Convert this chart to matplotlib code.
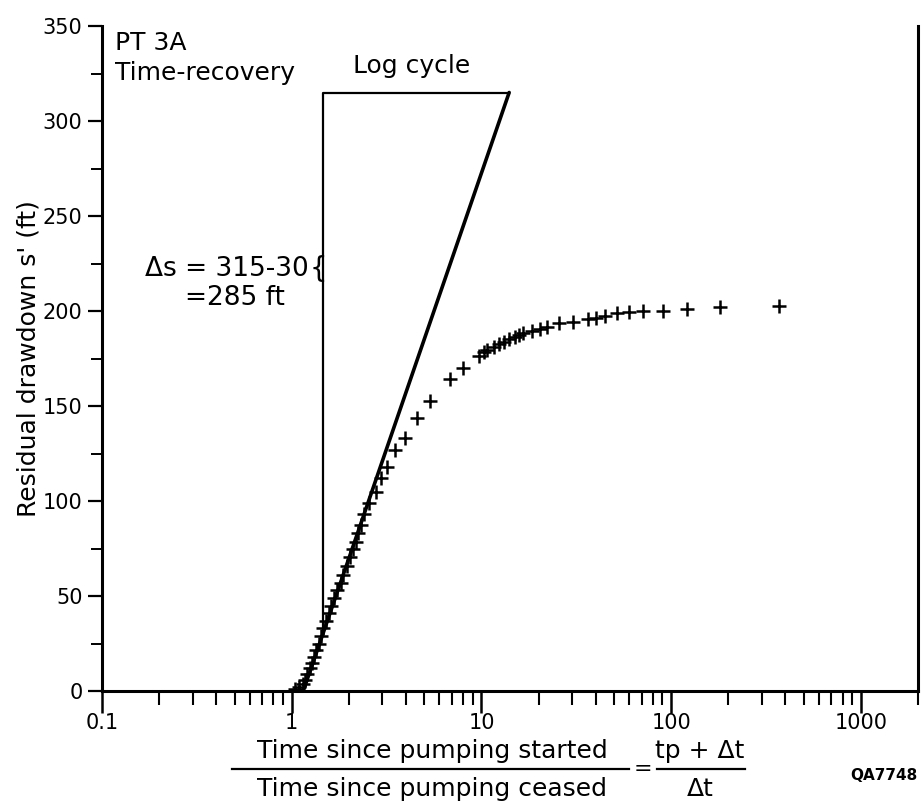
import matplotlib.pyplot as plt
from matplotlib.lines import Line2D
from matplotlib.ticker import LogLocator, NullFormatter
import numpy as np

# (tp + dt) / dt  and residual drawdown s' (ft), PT 3A recovery test
time_ratio = [1.04, 1.09, 1.14, 1.18, 1.21, 1.25, 1.28, 1.31, 1.35, 1.39,
              1.43, 1.47, 1.52, 1.57, 1.62, 1.68, 1.74, 1.81, 1.87, 1.95,
              2.03, 2.10, 2.18, 2.24, 2.31, 2.41, 2.56, 2.78, 2.96, 3.19,
              3.52, 3.95, 4.55, 5.37, 6.86, 8.0, 9.76, 10.3, 10.7, 11.6,
              12.4, 13.1, 13.9, 15.0, 15.8, 16.6, 18.5, 20.3, 22.1, 25.5,
              30.4, 36.3, 40.1, 44.8, 51.8, 59.7, 71.1, 91.0, 121, 180, 370]
drawdown = [1, 2, 3.5, 6, 9, 12, 15, 18, 21.5, 25,
            29, 33, 37, 41, 45, 49, 53, 57, 61, 66,
            70.5, 74.5, 78.5, 83, 87.5, 93, 99, 105, 112, 118,
            127, 133, 143.5, 152.5, 164, 170, 176.3, 178.3, 179.5, 181.2,
            182.5, 183.8, 185.1, 186.5, 187.5, 188.6, 189.5, 190.4, 191.7, 193.7,
            194.4, 195.8, 196.5, 197.4, 199.1, 199.6, 200, 200, 200.9, 202.3, 202.6]

# fitted straight line and the log-cycle construction
fit_x = [1.15, 14.0]
fit_y = [0, 315]
cycle_x = 1.46
cycle_s = [30, 315]

x_ticks = [0.1, 1, 10, 100, 1000]
x_tick_labels = ["0.1", "1", "10", "100", "1000"]
y_ticks = [0, 50, 100, 150, 200, 250, 300, 350]

fig = plt.figure(figsize=(9.21, 8.06), dpi=100)
ax = fig.add_axes([102 / 921, 115 / 806, 816 / 921, 665 / 806])

ax.set_xscale("log")
ax.set_xlim(0.1, 2000)
ax.set_ylim(0, 350)

ax.plot(fit_x, fit_y, color="black", lw=2.6, solid_capstyle="round")
ax.plot(time_ratio, drawdown, ls="none", marker="+", ms=10, mew=1.8,
        color="black")

# log cycle bracket
ax.plot([cycle_x, cycle_x, fit_x[1]], [cycle_s[0], cycle_s[1], cycle_s[1]],
        color="black", lw=1.6)
ax.text(1.38, 222, "{", ha="center", va="center", fontsize=20)

ax.text(4.3, 329, "Log cycle", ha="center", va="center", fontsize=18)
ax.text(0.016, 0.975, "PT 3A", transform=ax.transAxes, ha="left",
        va="center", fontsize=18)
ax.text(0.016, 0.93, "Time-recovery", transform=ax.transAxes, ha="left",
        va="center", fontsize=18)
ax.text(1.23, 222, "Δs = 315-30", ha="right", va="center", fontsize=19)
ax.text(0.274, 207, "=285 ft", ha="left", va="center", fontsize=19)

ax.set_xticks(x_ticks)
ax.set_xticklabels(x_tick_labels)
ax.xaxis.set_minor_locator(LogLocator(base=10, subs=np.arange(2, 10)))
ax.xaxis.set_minor_formatter(NullFormatter())
ax.set_yticks(y_ticks)
ax.set_yticks([25, 75, 125, 175, 225, 275, 325], minor=True)

ax.tick_params(axis="x", which="major", direction="out", length=16,
               width=1.8, labelsize=15, pad=0)
ax.tick_params(axis="x", which="minor", direction="out", length=10,
               width=1.5)
ax.tick_params(axis="y", which="major", direction="out", length=10,
               width=1.6, labelsize=15, pad=4)
ax.tick_params(axis="y", which="minor", direction="out", length=8,
               width=1.4)

ax.spines["top"].set_visible(False)
for side in ["left", "bottom", "right"]:
    ax.spines[side].set_linewidth(2.2)

ax.set_ylabel("Residual drawdown s' (ft)", fontsize=18, labelpad=2)

# x-axis label written as a fraction
fig.text(432 / 921, 1 - 751 / 806, "Time since pumping started",
         ha="center", va="center", fontsize=18)
fig.text(432 / 921, 1 - 789 / 806, "Time since pumping ceased",
         ha="center", va="center", fontsize=18)
fig.add_artist(Line2D([232 / 921, 629 / 921], [1 - 769 / 806, 1 - 769 / 806],
                      color="black", lw=1.6))
fig.text(643 / 921, 1 - 769 / 806, "=", ha="center", va="center",
         fontsize=16)
fig.text(700 / 921, 1 - 751 / 806, "tp + Δt", ha="center", va="center",
         fontsize=18)
fig.text(700 / 921, 1 - 789 / 806, "Δt", ha="center", va="center",
         fontsize=18)
fig.add_artist(Line2D([657 / 921, 745 / 921], [1 - 769 / 806, 1 - 769 / 806],
                      color="black", lw=1.6))
fig.text(917 / 921, 1 - 776 / 806, "QA7748", ha="right", va="center",
         fontsize=11, fontweight="bold")

fig.savefig("out.png", dpi=100)
